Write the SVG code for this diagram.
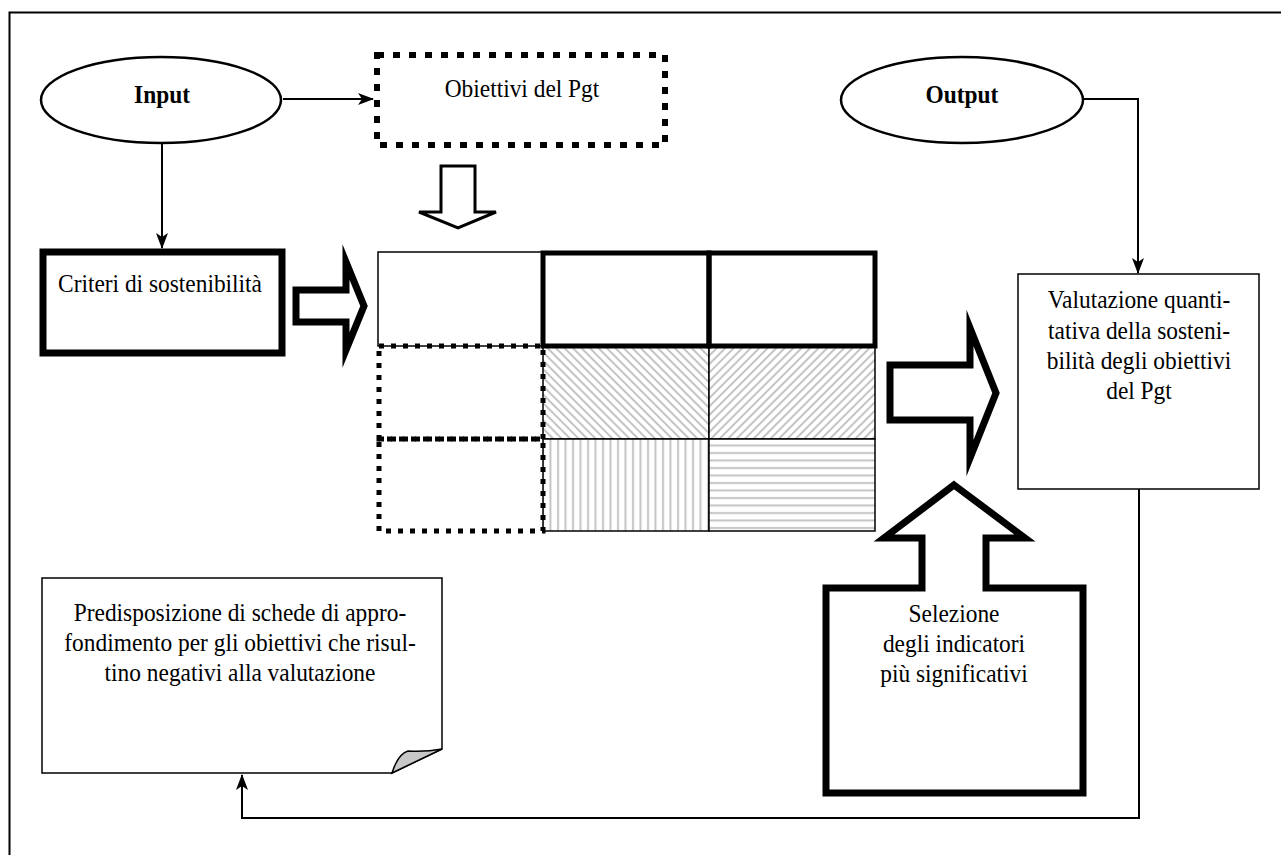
<svg xmlns="http://www.w3.org/2000/svg" width="1281" height="855" viewBox="0 0 1281 855">
<style>
  .t{font-family:"Liberation Serif","Times New Roman",serif;font-size:26px;fill:#000;text-anchor:middle}
  .b{font-weight:bold}
  .thin{fill:#fff;stroke:#000;stroke-width:1.5}
  .dots{fill:none;stroke:#000;stroke-width:5;stroke-dasharray:5 7}
  .conn{fill:none;stroke:#000;stroke-width:2}
  .blk{fill:#fff;stroke:#000;stroke-width:7;stroke-linejoin:miter;stroke-miterlimit:10}
</style>
<defs>
  <marker id="ah" viewBox="0 0 16 12" refX="15" refY="6" markerWidth="16" markerHeight="12" markerUnits="userSpaceOnUse" orient="auto">
    <path d="M0,0 L16,6 L0,12 L4,6 z" fill="#000"/>
  </marker>
  <pattern id="pd1" width="6" height="6" patternUnits="userSpaceOnUse" patternTransform="rotate(45)">
    <rect width="6" height="6" fill="#fff"/>
    <line x1="0" y1="3" x2="6" y2="3" stroke="#c4c4c4" stroke-width="2"/>
  </pattern>
  <pattern id="pd2" width="6" height="6" patternUnits="userSpaceOnUse" patternTransform="rotate(-45)">
    <rect width="6" height="6" fill="#fff"/>
    <line x1="0" y1="3" x2="6" y2="3" stroke="#c4c4c4" stroke-width="2"/>
  </pattern>
  <pattern id="pv" width="7.5" height="10" patternUnits="userSpaceOnUse">
    <rect width="7.5" height="10" fill="#fff"/>
    <line x1="3" y1="0" x2="3" y2="10" stroke="#c4c4c4" stroke-width="2"/>
  </pattern>
  <pattern id="ph" width="10" height="7.5" patternUnits="userSpaceOnUse">
    <rect width="10" height="7.5" fill="#fff"/>
    <line x1="0" y1="3" x2="10" y2="3" stroke="#c4c4c4" stroke-width="2"/>
  </pattern>
</defs>
<rect width="1281" height="855" fill="#fff"/>
<rect id="frame" x="9.5" y="12.5" width="1300" height="900" fill="none" stroke="#000" stroke-width="2"/>

<g id="connectors">
  <line class="conn" x1="283" y1="99" x2="373" y2="99" marker-end="url(#ah)"/>
  <line class="conn" x1="162" y1="143" x2="162" y2="248" marker-end="url(#ah)"/>
  <polyline class="conn" points="1083,99 1138,99 1138,273" marker-end="url(#ah)"/>
  <polyline class="conn" points="1139,489 1139,818 242,818 242,775" marker-end="url(#ah)"/>
</g>

<g id="input">
  <ellipse cx="161" cy="100" rx="120" ry="43" fill="#fff" stroke="#000" stroke-width="2.5"/>
  <text class="t b" transform="translate(162,103) scale(0.9,1)">Input</text>
</g>

<g id="obiettivi">
  <rect x="377" y="55" width="288" height="90" fill="#fff" stroke="#000" stroke-width="6" stroke-dasharray="7 9"/>
  <text class="t" transform="translate(522,97) scale(0.9,1)">Obiettivi del Pgt</text>
</g>

<g id="output">
  <ellipse cx="962" cy="100" rx="121" ry="43" fill="#fff" stroke="#000" stroke-width="2.5"/>
  <text class="t b" transform="translate(962,103) scale(0.9,1)">Output</text>
</g>

<g id="arrow-down">
  <polygon points="441,166 475,166 475,212 496,212 458,228 419,212 441,212" fill="#fff" stroke="#000" stroke-width="3" stroke-linejoin="miter"/>
</g>

<g id="criteri">
  <rect x="43" y="252" width="239" height="101" fill="#fff" stroke="#000" stroke-width="7"/>
  <text class="t" transform="translate(160,292) scale(0.9,1)">Criteri di sostenibilità</text>
</g>

<g id="arrow-right-1">
  <polygon class="blk" points="296,290 346,290 346,262 364,306 346,350 346,322 296,322"/>
</g>

<g id="table">
  <rect class="thin" x="378" y="252" width="165" height="94"/>
  <rect x="543" y="346" width="166" height="93" fill="url(#pd1)" stroke="#000" stroke-width="1.5"/>
  <rect x="709" y="346" width="166" height="93" fill="url(#pd2)" stroke="#000" stroke-width="1.5"/>
  <rect x="543" y="439" width="166" height="92" fill="url(#pv)" stroke="#000" stroke-width="1.5"/>
  <rect x="709" y="439" width="166" height="92" fill="url(#ph)" stroke="#000" stroke-width="1.5"/>
  <rect x="379" y="346" width="164" height="93" class="dots"/>
  <rect x="379" y="439" width="164" height="92" class="dots"/>
  <rect x="543" y="253" width="166" height="93" fill="none" stroke="#000" stroke-width="5"/>
  <rect x="709" y="253" width="166" height="93" fill="none" stroke="#000" stroke-width="5"/>
</g>

<g id="arrow-right-2">
  <polygon class="blk" points="890,365 970,365 970,328 996,393 970,458 970,420 890,420"/>
</g>

<g id="valutazione">
  <rect class="thin" x="1018" y="274" width="241" height="215"/>
  <text class="t" transform="translate(1139,308) scale(0.9,1)">Valutazione quanti-</text>
  <text class="t" transform="translate(1139,339) scale(0.9,1)">tativa della sosteni-</text>
  <text class="t" transform="translate(1139,369) scale(0.9,1)">bilità degli obiettivi</text>
  <text class="t" transform="translate(1139,399) scale(0.9,1)">del Pgt</text>
</g>

<g id="selezione">
  <polygon class="blk" points="954,485 1025,538 986,538 986,588 1083,588 1083,793 826,793 826,588 922,588 922,538 884,538"/>
  <text class="t" transform="translate(954,622) scale(0.9,1)">Selezione</text>
  <text class="t" transform="translate(954,652) scale(0.9,1)">degli indicatori</text>
  <text class="t" transform="translate(954,682) scale(0.9,1)">più significativi</text>
</g>

<g id="predisposizione">
  <path d="M42,578 L442,578 L442,749 L392,773 L42,773 Z" fill="#fff" stroke="#000" stroke-width="1.5"/>
  <path d="M392,773 Q398,754 408,751 Q426,752 442,749 Z" fill="#c8c8c8" stroke="#000" stroke-width="1.5"/>
  <text class="t" transform="translate(240,621) scale(0.9,1)">Predisposizione di schede di appro-</text>
  <text class="t" transform="translate(240,651) scale(0.9,1)">fondimento per gli obiettivi che risul-</text>
  <text class="t" transform="translate(240,681) scale(0.9,1)">tino negativi alla valutazione</text>
</g>
</svg>
